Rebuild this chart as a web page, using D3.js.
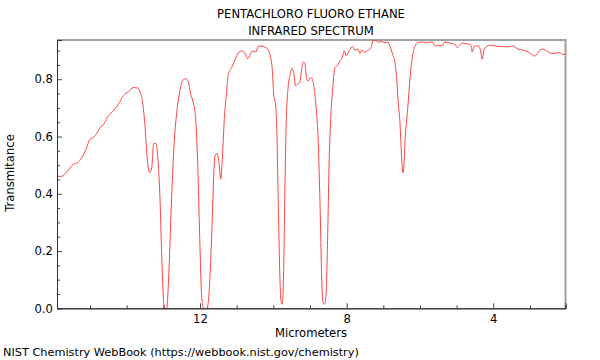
<!DOCTYPE html>
<html>
<head>
<meta charset="utf-8">
<script src="https://cdn.jsdelivr.net/npm/d3@7"></script>
<style>
  body { margin: 0; background: #fff; }
  text { font-family: "DejaVu Sans", sans-serif; font-size: 11.6px; fill: #000; }
</style>
</head>
<body>
<div id="chart"></div>
<script>
// wavelength in micrometers
var wavelength = [15.90, 15.77, 15.635, 15.455, 15.335, 15.226, 15.109, 15.0, 14.91, 14.817,
  14.746, 14.61, 14.501, 14.365, 14.228, 14.092, 13.955, 13.819, 13.699, 13.628,
  13.563, 13.5, 13.445, 13.372, 13.317, 13.263, 13.208, 13.154, 13.09, 13.04,
  12.99, 12.96, 12.908, 12.845, 12.772, 12.709, 12.635, 12.565, 12.483, 12.39,
  12.319, 12.254, 12.183, 12.117, 12.063, 12.008, 11.954, 11.899, 11.809, 11.746,
  11.681, 11.626, 11.591, 11.536, 11.482, 11.435, 11.392, 11.337, 11.283, 11.228,
  11.135, 11.045, 10.955, 10.863, 10.773, 10.699, 10.628, 10.563, 10.481, 10.41,
  10.336, 10.227, 10.137, 10.072, 10.028, 9.99, 9.935, 9.9, 9.865, 9.826,
  9.791, 9.755, 9.717, 9.682, 9.646, 9.592, 9.537, 9.491, 9.445, 9.39,
  9.335, 9.281, 9.226, 9.183, 9.136, 9.09, 9.046, 8.992, 8.937, 8.883,
  8.828, 8.774, 8.727, 8.681, 8.645, 8.599, 8.564, 8.517, 8.482, 8.435,
  8.381, 8.318, 8.245, 8.182, 8.119, 8.065, 8.01, 7.936, 7.846, 7.773,
  7.691, 7.636, 7.59, 7.519, 7.41, 7.336, 7.274, 7.208, 7.137, 7.045,
  6.955, 6.881, 6.818, 6.745, 6.682, 6.627, 6.592, 6.545, 6.505, 6.464,
  6.436, 6.409, 6.335, 6.265, 6.21, 6.136, 6.046, 5.954, 5.817, 5.664,
  5.591, 5.501, 5.408, 5.318, 5.182, 5.045, 4.977, 4.909, 4.819, 4.683,
  4.609, 4.574, 4.519, 4.41, 4.345, 4.301, 4.246, 4.181, 4.091, 3.955,
  3.772, 3.592, 3.483, 3.409, 3.319, 3.183, 3.046, 2.954, 2.883, 2.817,
  2.727, 2.637, 2.545, 2.427, 2.318, 2.182, 2.119, 2.03];

var transmittance = [0.461, 0.461, 0.476, 0.503, 0.509, 0.526, 0.555, 0.590, 0.596, 0.611,
  0.627, 0.646, 0.672, 0.689, 0.713, 0.742, 0.756, 0.771, 0.769, 0.753,
  0.718, 0.637, 0.532, 0.474, 0.491, 0.576, 0.576, 0.532, 0.38, 0.17,
  0.02, 0.0, 0.0, 0.136, 0.392, 0.567, 0.683, 0.748, 0.794, 0.802,
  0.791, 0.748, 0.718, 0.660, 0.509, 0.253, 0.043, 0.0, 0.0, 0.066,
  0.253, 0.462, 0.532, 0.541, 0.509, 0.451, 0.520, 0.660, 0.742, 0.817,
  0.841, 0.867, 0.893, 0.899, 0.891, 0.872, 0.887, 0.899, 0.895, 0.915,
  0.916, 0.912, 0.902, 0.875, 0.835, 0.748, 0.707, 0.602, 0.369, 0.136,
  0.026, 0.014, 0.136, 0.427, 0.660, 0.777, 0.817, 0.838, 0.823, 0.777,
  0.783, 0.788, 0.835, 0.860, 0.852, 0.800, 0.794, 0.806, 0.800, 0.765,
  0.695, 0.579, 0.369, 0.113, 0.020, 0.014, 0.043, 0.253, 0.486, 0.660,
  0.765, 0.841, 0.849, 0.864, 0.875, 0.899, 0.881, 0.899, 0.914, 0.902,
  0.906, 0.890, 0.902, 0.895, 0.902, 0.910, 0.937, 0.936, 0.930, 0.931,
  0.928, 0.930, 0.916, 0.887, 0.858, 0.788, 0.718, 0.648, 0.54, 0.473,
  0.50, 0.579, 0.695, 0.812, 0.875, 0.916, 0.928, 0.930, 0.928, 0.930,
  0.916, 0.919, 0.916, 0.930, 0.926, 0.921, 0.910, 0.920, 0.926, 0.922,
  0.919, 0.895, 0.916, 0.916, 0.899, 0.870, 0.905, 0.914, 0.919, 0.916,
  0.914, 0.913, 0.916, 0.913, 0.905, 0.902, 0.895, 0.887, 0.881, 0.885,
  0.902, 0.905, 0.899, 0.891, 0.891, 0.893, 0.887, 0.887];

var xMajor = [12, 8, 4];
var xMinor = [15, 14, 13, 11, 10, 9, 7, 6, 5, 3];
var yMajor = [0, 0.2, 0.4, 0.6, 0.8];
var yMinor = [0.05, 0.1, 0.15, 0.25, 0.3, 0.35, 0.45, 0.5, 0.55, 0.65, 0.7, 0.75, 0.85, 0.9];

var width = 600, height = 360;
var plotL = 57, plotR = 565.5, plotT = 40, plotB = 308.3;

var svg = d3.select("#chart").append("svg")
    .attr("width", width)
    .attr("height", height);

var x = d3.scaleLinear().domain([15.9, 2.03]).range([plotL, plotR]);
var y = d3.scaleLinear().domain([0, 0.937]).range([plotB, plotT]);

// titles
svg.append("text").attr("x", 311).attr("y", 17.5).attr("text-anchor", "middle")
    .text("PENTACHLORO FLUORO ETHANE");
svg.append("text").attr("x", 311).attr("y", 34.5).attr("text-anchor", "middle")
    .text("INFRARED SPECTRUM");

// frame, top and right in light gray
svg.append("line").attr("x1", plotL).attr("x2", plotR + 1).attr("y1", plotT).attr("y2", plotT)
    .attr("stroke", "#a0a0a0").attr("stroke-width", 2);
svg.append("line").attr("x1", plotR).attr("x2", plotR).attr("y1", plotT).attr("y2", plotB)
    .attr("stroke", "#a0a0a0").attr("stroke-width", 2);

// spectrum
svg.append("clipPath").attr("id", "plot")
  .append("rect").attr("x", plotL).attr("y", plotT).attr("width", plotR - plotL).attr("height", plotB - plotT);

var pts = wavelength.map(function(w, i) { return [w, transmittance[i]]; });
var line = d3.line()
    .x(function(d) { return x(d[0]); })
    .y(function(d) { return y(d[1]); })
    .curve(d3.curveMonotoneX);

svg.append("path")
    .datum(pts)
    .attr("clip-path", "url(#plot)")
    .attr("fill", "none")
    .attr("stroke", "#ff3030")
    .attr("stroke-width", 0.9)
    .attr("d", line);

// x axis, ticks pointing inwards
var gx = svg.append("g").attr("transform", "translate(0," + plotB + ")");
gx.append("g").call(d3.axisBottom(x).tickValues(xMinor).tickSize(-3).tickFormat(""));
gx.append("g").call(d3.axisBottom(x).tickValues(xMajor).tickSize(-5).tickPadding(6).tickFormat(d3.format("d")));
gx.selectAll("path").attr("stroke", "#333");
gx.selectAll("line").attr("stroke", "#444");
gx.selectAll("text").style("font-size", "11.6px").style("font-family", "DejaVu Sans").attr("fill", "#000");

// y axis
var gy = svg.append("g").attr("transform", "translate(" + plotL + ",0)");
gy.append("g").call(d3.axisLeft(y).tickValues(yMinor).tickSize(-3).tickFormat(""));
gy.append("g").call(d3.axisLeft(y).tickValues(yMajor).tickSize(-5).tickPadding(4).tickFormat(d3.format(".1f")));
gy.selectAll("path").attr("stroke", "#333");
gy.selectAll("line").attr("stroke", "#444");
gy.selectAll("text").style("font-size", "11.6px").style("font-family", "DejaVu Sans").attr("fill", "#000");

// axis titles
svg.append("text").attr("x", 311).attr("y", 337).attr("text-anchor", "middle")
    .text("Micrometers");
svg.append("text").attr("transform", "translate(14,173) rotate(-90)").attr("text-anchor", "middle")
    .text("Transmitance");

svg.append("text").attr("x", 3).attr("y", 356).style("font-size", "11.3px")
    .text("NIST Chemistry WebBook (https://webbook.nist.gov/chemistry)");
</script>
</body>
</html>
